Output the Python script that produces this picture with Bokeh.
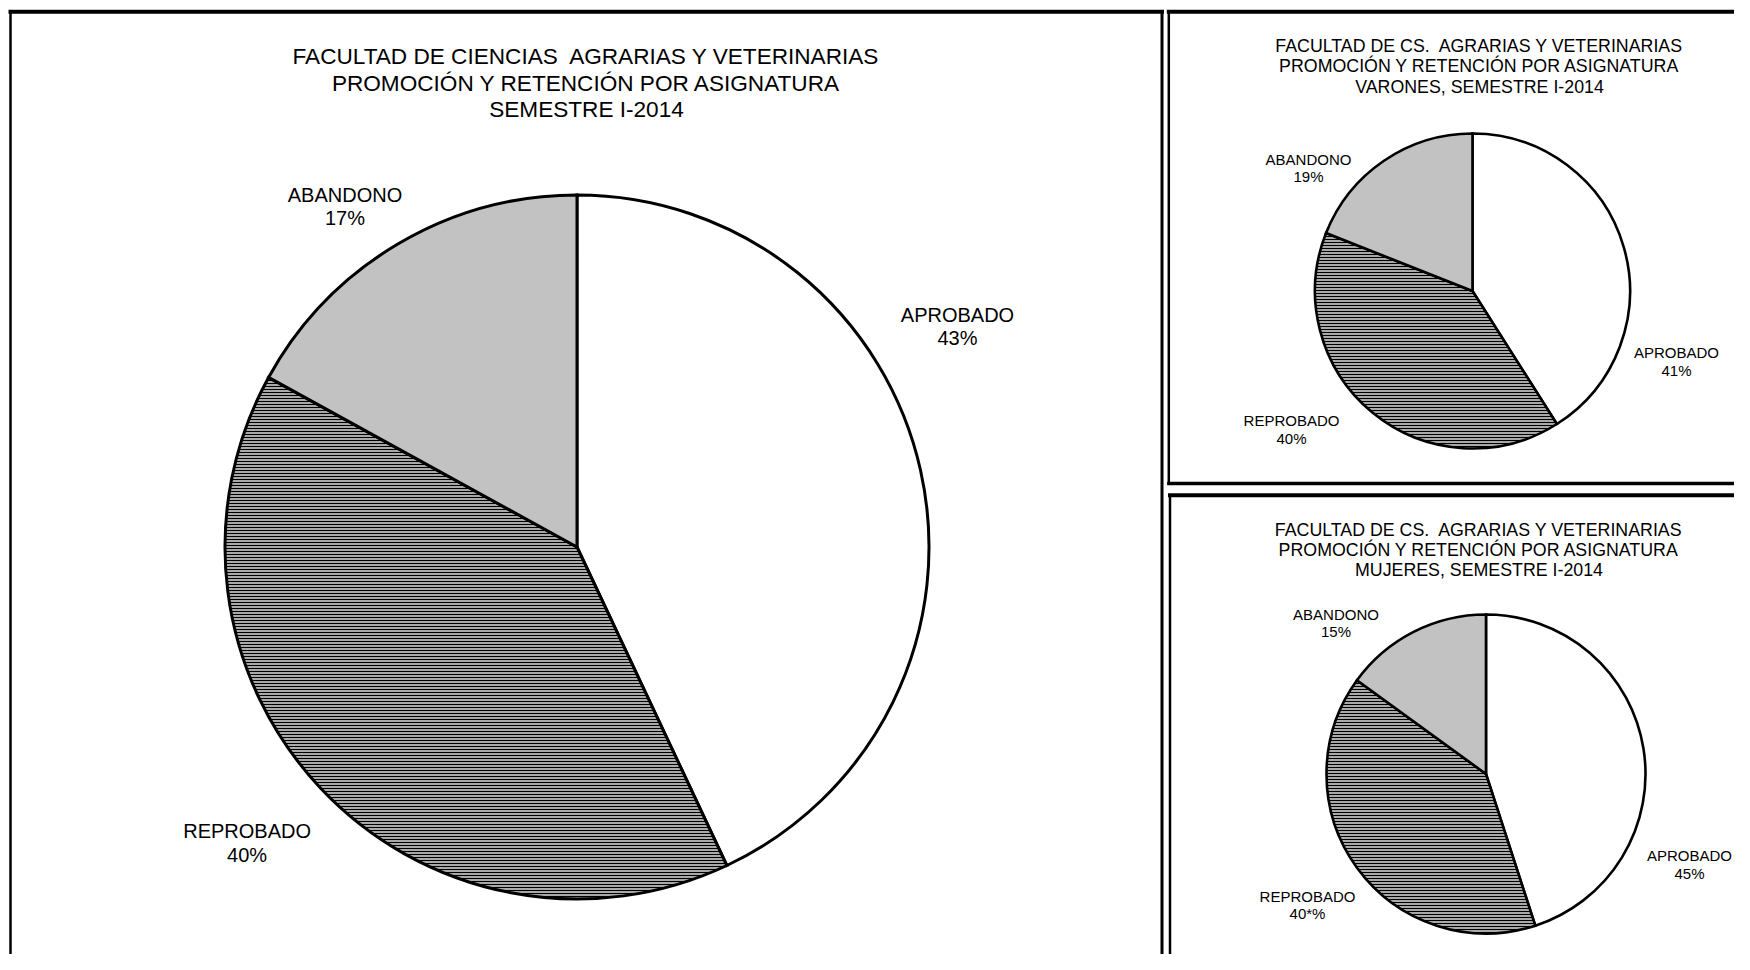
from bokeh.plotting import figure
from bokeh.models import Range1d, ColumnDataSource
from bokeh.core.properties import value
from bokeh.embed import file_html
from bokeh.resources import INLINE
import math

# ---------------- data ----------------
categories = ["APROBADO", "REPROBADO", "ABANDONO"]
total_pct = [43, 40, 17]
varones_pct = [41, 40, 19]
mujeres_pct = [45, 40, 15]
total_lbl = ["43%", "40%", "17%"]
varones_lbl = ["41%", "40%", "19%"]
mujeres_lbl = ["45%", "40*%", "15%"]

title_main = ["FACULTAD DE CIENCIAS\u00a0 AGRARIAS Y VETERINARIAS",
              "PROMOCIÓN Y RETENCIÓN POR ASIGNATURA",
              "SEMESTRE I-2014"]
title_var = ["FACULTAD DE CS.\u00a0 AGRARIAS Y VETERINARIAS",
             "PROMOCIÓN Y RETENCIÓN POR ASIGNATURA",
             "VARONES, SEMESTRE I-2014"]
title_muj = ["FACULTAD DE CS.\u00a0 AGRARIAS Y VETERINARIAS",
             "PROMOCIÓN Y RETENCIÓN POR ASIGNATURA",
             "MUJERES, SEMESTRE I-2014"]

# ---------------- styles ----------------
FONT = "Liberation Sans"
fills = ["#ffffff", "#a9a9a9", "#c2c2c2"]
hatches = [" ", "-", " "]
TXT_DY = -8  # text baseline correction

W, H = 1734, 954
p = figure(width=W, height=H, output_backend="svg", toolbar_location=None,
           x_range=Range1d(0, W), y_range=Range1d(0, H),
           x_axis_location=None, y_axis_location=None, min_border=0,
           outline_line_color=None, background_fill_color="white",
           border_fill_color="white")
p.grid.visible = False


def Y(y):  # picture (top-down) -> data (bottom-up)
    return H - y


# ---------------- panel frames ----------------
seg = dict(x0=[], y0=[], x1=[], y1=[], w=[])
def add_seg(x0, y0, x1, y1, w):
    seg["x0"].append(x0); seg["y0"].append(Y(y0))
    seg["x1"].append(x1); seg["y1"].append(Y(y1)); seg["w"].append(w)

# main panel
add_seg(10, 11.3, 1161.5, 11.3, 4)
add_seg(10, 11.3, 10, 1000, 2.5)
add_seg(1161.5, 11.3, 1161.5, 1000, 3)
# top-right panel
add_seg(1168.3, 11.3, 1800, 11.3, 4)
add_seg(1168.3, 11.3, 1168.3, 483, 2.5)
add_seg(1168.3, 483, 1800, 483, 3.3)
# bottom-right panel
add_seg(1169.5, 494.7, 1800, 494.7, 4)
add_seg(1169.5, 494.7, 1169.5, 1000, 2.5)
p.segment(x0="x0", y0="y0", x1="x1", y1="y1", line_width="w",
          line_color="black", line_cap="square", source=ColumnDataSource(seg))


# ---------------- pies ----------------
def pie(cx, cy, r, vals, lw):
    tot = float(sum(vals))
    starts, ends = [], []
    c = 0.0
    for v in vals:
        c0 = c
        c += v / tot
        starts.append(math.pi / 2 - 2 * math.pi * c)
        ends.append(math.pi / 2 - 2 * math.pi * c0)
    src = ColumnDataSource(dict(x=[cx] * 3, y=[Y(cy)] * 3, s=starts, e=ends,
                                fill=fills, hatch=hatches, cat=categories))
    p.wedge(x="x", y="y", radius=r, start_angle="s", end_angle="e",
            fill_color="fill", hatch_pattern="hatch", hatch_color="black",
            hatch_scale=3, hatch_weight=1, line_color="black",
            line_width=lw, line_join="miter", source=src)


def titles(cx, baselines, lines, size):
    p.text(x=[cx] * len(lines), y=[Y(b + TXT_DY) for b in baselines], text=lines,
           text_font=value(FONT), text_font_size=size, text_align="center",
           text_baseline="alphabetic", text_color="black")


def labels(xs, b1, b2, lbls, size):
    p.text(x=xs, y=[Y(b + TXT_DY) for b in b1], text=categories,
           text_font=value(FONT), text_font_size=size, text_align="center",
           text_baseline="alphabetic", text_color="black")
    p.text(x=xs, y=[Y(b + TXT_DY) for b in b2], text=lbls,
           text_font=value(FONT), text_font_size=size, text_align="center",
           text_baseline="alphabetic", text_color="black")


# main
pie(576.5, 546.5, 352, total_pct, 3)
titles(586, [64, 90.7, 116.7], title_main, "22.6px")
labels([957, 246.6, 344.5], [322, 838.7, 202], [345.5, 862, 225.5],
       total_lbl, "20px")

# varones
pie(1472, 290.5, 157.5, varones_pct, 2.6)
titles(1479, [53.3, 73, 94], title_var, "17.8px")
labels([1676, 1291, 1308], [360, 428, 166.5], [378, 446, 183.5],
       varones_lbl, "15px")

# mujeres
pie(1485.5, 773.5, 159.5, mujeres_pct, 2.6)
titles(1478.5, [537.7, 557, 577.7], title_muj, "17.8px")
labels([1689, 1307, 1335.5], [862.7, 904.2, 621.7], [881, 920.8, 639.3],
       mujeres_lbl, "15px")

open("out.html", "w").write(file_html(p, INLINE))
